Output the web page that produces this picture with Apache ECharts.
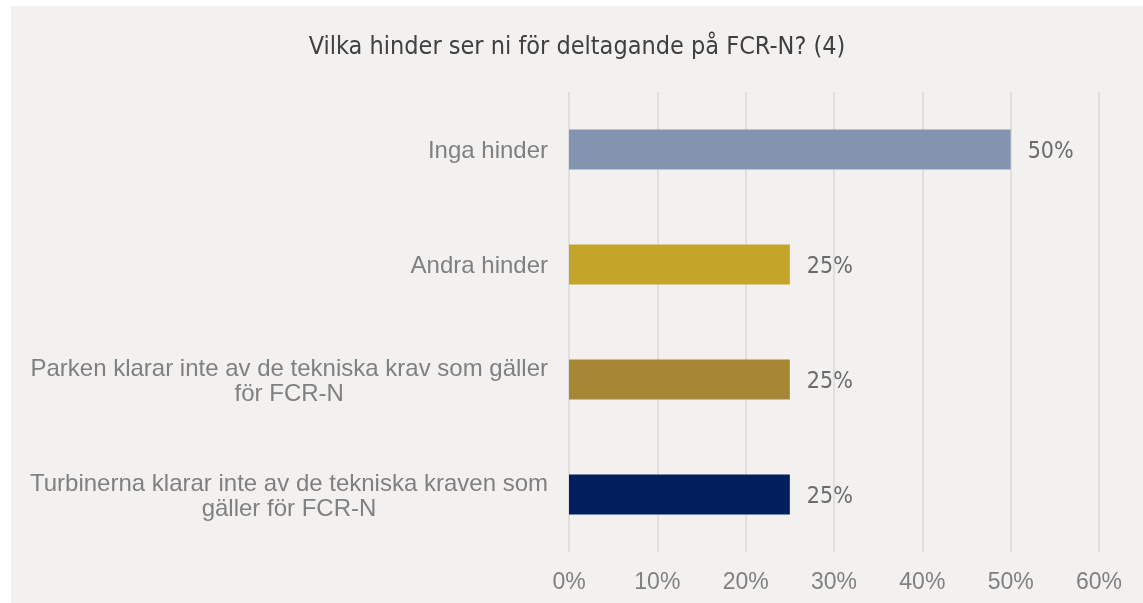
<!DOCTYPE html>
<html>
<head>
<meta charset="utf-8">
<script src="https://cdn.jsdelivr.net/npm/echarts@6/dist/echarts.min.js"></script>
<style>
  html, body { margin: 0; padding: 0; background: #ffffff; }
  #chart { position: absolute; left: 11px; top: 6px; width: 1132px; height: 597px; background: #f2f1f0; }
</style>
</head>
<body>
<div id="chart"></div>
<script>
// kategorier (uppifrån och ned) och andelar i procent
var categories = [
    'Inga hinder',
    'Andra hinder',
    'Parken klarar inte av de tekniska krav som gäller\nför FCR-N',
    'Turbinerna klarar inte av de tekniska kraven som\ngäller för FCR-N'
];
var values = [50, 25, 25, 25];
var barColors = ['#8493b0', '#c4a52a', '#a68733', '#001f5c'];
var tickLabels = ['0%', '10%', '20%', '30%', '40%', '50%', '60%'];

var myChart = echarts.init(document.getElementById('chart'));

myChart.setOption({
    backgroundColor: '#f2f1f0',
    animation: false,
    title: {
        text: 'Vilka hinder ser ni för deltagande på FCR-N? (4)',
        left: 'center',
        top: 24,
        textStyle: {
            fontFamily: 'DejaVu Sans Condensed',
            fontWeight: 'normal',
            fontSize: 25,
            color: '#404040'
        }
    },
    grid: {
        left: 558,
        right: 44,
        top: 86,
        bottom: 51
    },
    xAxis: {
        type: 'value',
        min: 0,
        max: 60,
        interval: 10,
        axisLine: { show: false },
        axisTick: { show: false },
        splitLine: {
            lineStyle: { color: '#e0dfde', width: 2 }
        },
        axisLabel: {
            margin: 19,
            fontFamily: 'Liberation Sans',
            fontSize: 23,
            color: '#808080',
            formatter: function (v) {
                return tickLabels[v / 10];
            }
        }
    },
    yAxis: {
        type: 'category',
        inverse: true,
        data: categories,
        axisLine: { show: false },
        axisTick: { show: false },
        axisLabel: {
            margin: 21,
            fontFamily: 'Liberation Sans',
            fontSize: 24,
            lineHeight: 25,
            color: '#808080',
            formatter: function (v) {
                // varje rad centreras inom etiketten
                return v.split('\n').map(function (s) { return '{c|' + s + '}'; }).join('\n');
            },
            rich: {
                c: {
                    align: 'center',
                    fontFamily: 'Liberation Sans',
                    fontSize: 24,
                    lineHeight: 25,
                    color: '#808080',
                    padding: [4, 0, 0, 0]
                }
            }
        }
    },
    series: [{
        type: 'bar',
        barWidth: 40,
        data: values.map(function (v, i) {
            return { value: v, itemStyle: { color: barColors[i] } };
        }),
        label: {
            show: true,
            position: 'right',
            distance: 17,
            offset: [0, 3],
            fontFamily: 'DejaVu Sans Condensed',
            fontSize: 23,
            color: '#6b6b6b',
            formatter: '{c}%'
        }
    }]
});
</script>
</body>
</html>
